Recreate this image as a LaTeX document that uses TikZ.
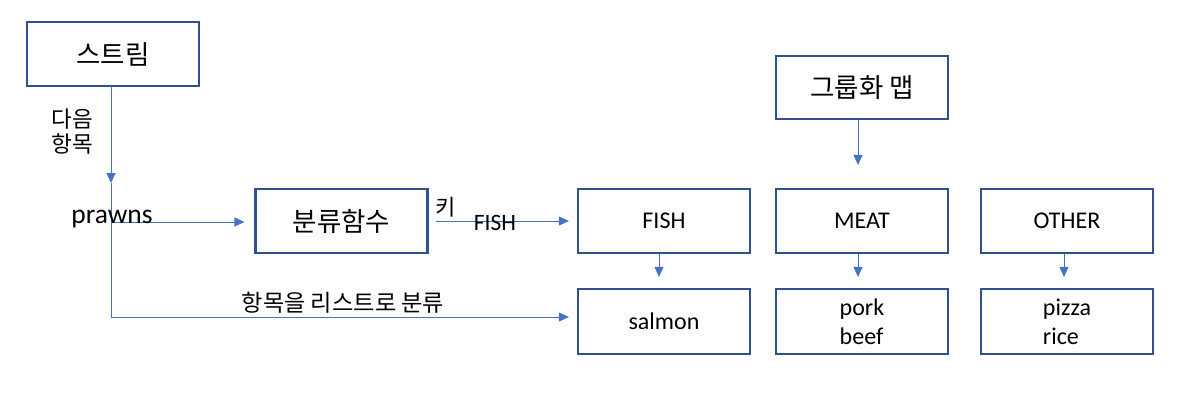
\documentclass[tikz,border=0pt]{standalone}
\usepackage{fontspec}
\setmainfont{Carlito}
\newfontfamily\kr{Noto Sans CJK KR}
\usetikzlibrary{arrows.meta}
\definecolor{boxblue}{HTML}{2F528F}
\definecolor{lineblue}{HTML}{4472C4}
\begin{document}
\begin{tikzpicture}[x=1pt,y=-1pt,
  box/.style={draw=boxblue, line width=2.2pt, minimum width=172pt, minimum height=64pt, inner sep=0pt, anchor=center},
  conn/.style={draw=lineblue, line width=1pt, -{Triangle[length=10pt,width=9pt]}},
  plainline/.style={draw=lineblue, line width=1pt},
  krtext/.style={font=\kr\fontsize{26.5}{31}\selectfont},
  lattext/.style={font=\fontsize{24}{29}\selectfont}]
\useasboundingbox (0,0) rectangle (1204,404);

% boxes
\node[box,krtext] (stream) at (113,54) {스트림};
\node[box,krtext] (func) at (341.5,221) {분류함수};
\node[box,krtext,minimum height=63pt] (gmap) at (862,87.5) {그룹화 맵};
\node[box,lattext] (fish) at (664,221) {FISH};
\node[box,lattext] (meat) at (862,221) {MEAT};
\node[box,lattext] (other) at (1067,221) {OTHER};
\node[box,lattext,minimum height=65pt] (salmon) at (664,321.5) {salmon};
\node[box,lattext,align=left,minimum height=65pt] (porkbeef) at (862,321.5) {pork\\beef};
\node[box,lattext,align=left,minimum height=65pt] (pizzarice) at (1067,321.5) {pizza\\rice};

% connector points
\coordinate (v0) at (111,86);
\coordinate (vmid) at (111,183);
\coordinate (vbot) at (111,317);
\coordinate (hp) at (111,222);

% connectors
\draw[conn] (v0) -- (vmid);
\draw[plainline] (vmid) -- (vbot);
\draw[conn, shorten >=10pt] (hp) -- (hp -| func.west);
\draw[conn, shorten <=7pt, shorten >=8pt] (func.east) -- (fish.west);
\draw[conn, shorten >=8pt] (vbot) -- (vbot -| salmon.west);
\draw[conn, shorten >=23pt] ([xshift=-4pt]gmap.south) -- ([xshift=-4pt]meat.north);
\draw[conn, shorten >=11pt] ([xshift=-5pt]fish.south) -- ([xshift=-5pt]salmon.north);
\draw[conn, shorten >=11pt] ([xshift=-4pt]meat.south) -- ([xshift=-4pt]porkbeef.north);
\draw[conn, shorten >=11pt] ([xshift=-3pt]other.south) -- ([xshift=-3pt]pizzarice.north);

% labels
\node[font=\kr\fontsize{22.5}{25}\selectfont, align=left, inner sep=0pt] (nextitem) at (72.5,132) {다음\\항목};
\node[font=\fontsize{27.5}{30}\selectfont, anchor=base, inner sep=0pt] (prawns) at (112,223) {prawns};
\node[font=\kr\fontsize{22}{24}\selectfont, inner sep=0pt] (key) at (446,207) {키};
\node[font=\fontsize{23.5}{28}\selectfont, anchor=base, inner sep=0pt] (fishlbl) at (495,230.5) {FISH};
\node[font=\kr\fontsize{23.2}{27}\selectfont, inner sep=0pt] (classify) at (343,303) {항목을 리스트로 분류};
\end{tikzpicture}
\end{document}
